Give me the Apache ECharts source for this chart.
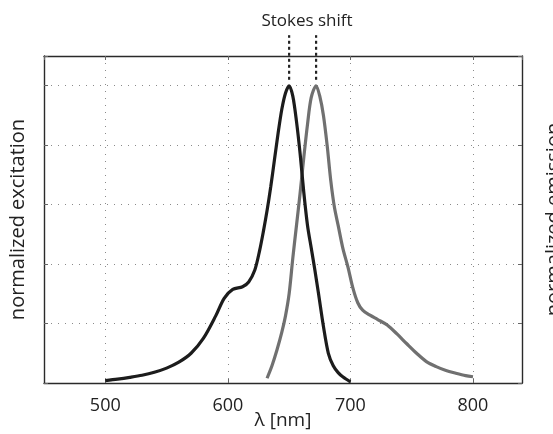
<!DOCTYPE html>
<html><head><meta charset="utf-8">
<script src="https://cdn.jsdelivr.net/npm/echarts@6/dist/echarts.min.js"></script>
<style>html,body{margin:0;padding:0;background:#fff}#c{width:553px;height:434px}</style>
</head><body><div id="c"></div>
<script>
// Excitation spectrum (black)
const exWavelength = [500,510,520,530,540,550,560,570,580,590,597,604,612,617,622,626,629,632,635,638,641,644,647,650,653,656,659,662,665,668,671,674,678,682,686,690,694,700];
const exValue      = [0.008,0.013,0.019,0.026,0.036,0.05,0.07,0.1,0.15,0.225,0.285,0.315,0.324,0.34,0.38,0.447,0.51,0.58,0.66,0.75,0.84,0.92,0.975,1.0,0.965,0.88,0.77,0.64,0.53,0.455,0.38,0.3,0.19,0.1,0.058,0.035,0.02,0.004];
// Emission spectrum (gray)
const emWavelength = [632,636,640,644,647,650,653,656,659,662,665,668,672,675,678,681,684,687,690,694,698,702,706,710,716,722,730,738,746,754,762,770,778,786,794,800];
const emValue      = [0.016,0.058,0.11,0.17,0.225,0.3,0.42,0.53,0.64,0.76,0.87,0.96,1.0,0.965,0.9,0.8,0.68,0.59,0.53,0.45,0.39,0.32,0.27,0.245,0.228,0.214,0.195,0.165,0.132,0.1,0.072,0.055,0.042,0.033,0.025,0.021];
// Stokes shift markers
const peakWavelengths = [650, 672];
const markerSpan = [1.02, 1.17];
const xTicks = [500, 600, 700, 800];

const FONT = 'Open Sans';
const chart = echarts.init(document.getElementById('c'), null, {renderer: 'canvas'});
const gridStyle = {show: true, lineStyle: {color: '#8a8a8a', width: 1, type: [1, 6]}};
const tickStyle = {show: true, inside: true, length: 4, lineStyle: {color: '#666', width: 1}};
const lineAxis = {show: true, onZero: false, lineStyle: {color: '#2a2a2a', width: 1.4}};

const markerSeries = peakWavelengths.map(p => ({
  type: 'line', data: markerSpan.map(v => [p, v]), clip: false, symbol: 'none', silent: true,
  lineStyle: {color: '#222', width: 2.2, type: [3, 3]}, z: 5
}));

chart.setOption({
  animation: false,
  textStyle: {fontFamily: FONT},
  grid: {left: 44, right: 31, top: 56, bottom: 51, outerBoundsMode: 'none', containLabel: false},
  title: {text: 'Stokes shift', left: 302, top: 8, textAlign: 'center',
    textStyle: {fontFamily: FONT, fontSize: 17, fontWeight: 'normal', color: '#222'}},
  xAxis: [
    {type: 'value', min: 450, max: 840, position: 'bottom',
     name: 'λ [nm]', nameLocation: 'middle', nameGap: 28, nameMoveOverlap: false,
     nameTextStyle: {fontFamily: FONT, fontSize: 19, color: '#222'},
     axisLine: lineAxis, axisTick: tickStyle, splitLine: gridStyle,
     axisLabel: {show: true, showMinLabel: false, showMaxLabel: false, margin: 14,
       fontFamily: FONT, fontSize: 18, color: '#222',
       formatter: v => xTicks.includes(v) ? String(v) : ''}},
    {type: 'value', min: 450, max: 840, position: 'top',
     axisLine: lineAxis, axisTick: tickStyle, splitLine: {show: false}, axisLabel: {show: false}}
  ],
  yAxis: [
    {type: 'value', min: 0, max: 1.1, interval: 0.2, position: 'left',
     name: 'normalized excitation', nameLocation: 'middle', nameRotate: 90, nameGap: 16, nameMoveOverlap: false,
     nameTextStyle: {fontFamily: FONT, fontSize: 20, color: '#222'},
     axisLine: lineAxis, axisTick: tickStyle, splitLine: gridStyle, axisLabel: {show: false}},
    {type: 'value', min: 0, max: 1.1, interval: 0.2, position: 'right',
     name: 'normalized emission', nameLocation: 'middle', nameRotate: 90, nameGap: 22, nameMoveOverlap: false,
     nameTextStyle: {fontFamily: FONT, fontSize: 20, color: '#222'},
     axisLine: lineAxis, axisTick: tickStyle, splitLine: {show: false}, axisLabel: {show: false}}
  ],
  series: [
    {type: 'line', name: 'excitation', data: exWavelength.map((w, i) => [w, exValue[i]]),
     symbol: 'none', smooth: 0.3, lineStyle: {color: '#1c1c1c', width: 3.2}, z: 4},
    {type: 'line', name: 'emission', data: emWavelength.map((w, i) => [w, emValue[i]]),
     symbol: 'none', smooth: 0.3, lineStyle: {color: '#707070', width: 3.2}, z: 3},
    ...markerSeries
  ]
});
</script></body></html>
